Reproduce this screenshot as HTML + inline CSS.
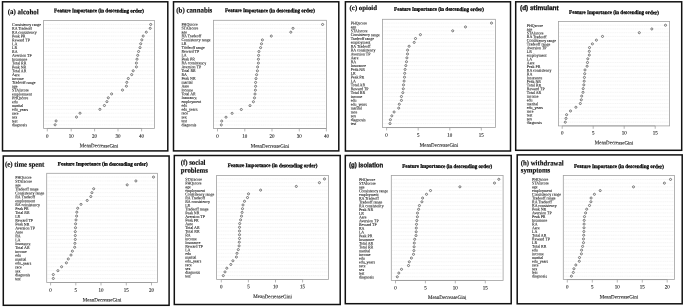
<!DOCTYPE html>
<html><head><meta charset="utf-8"><title>Feature importance</title>
<style>
html,body{margin:0;padding:0;background:#fff;}
body{width:685px;height:308px;overflow:hidden;}
svg{display:block;will-change:transform;}
svg text{font-family:"Liberation Serif", serif;text-rendering:geometricPrecision;}
svg circle{fill:none;stroke:#4a4a4a;stroke-width:0.7;}
.yl{font-size:4.3px;fill:#111;stroke:#111;stroke-width:0.07px;}
.tk{font-size:5.2px;fill:#222;stroke:#222;stroke-width:0.12px;text-anchor:middle;}
.xl{font-size:5.2px;fill:#222;stroke:#222;stroke-width:0.12px;}
.tt{font-size:5.3px;font-weight:bold;fill:#000;stroke:#000;stroke-width:0.26px;}
.pl{font-size:7.3px;font-weight:bold;fill:#111;stroke:#111;stroke-width:0.18px;}
.ps{font-family:"Liberation Sans", sans-serif !important;font-size:6.6px;font-weight:bold;fill:#111;stroke:#111;stroke-width:0.3px;}
</style></head>
<body>
<svg width="685" height="308" viewBox="0 0 685 308">
<rect width="685" height="308" fill="#fff"/>
<rect x="2.5" y="1.8" width="165.3" height="149.1" fill="none" stroke="#111111" stroke-width="1.5"/>
<path d="M44.4 24.46H153.6M44.4 28.32H153.6M44.4 32.18H153.6M44.4 36.04H153.6M44.4 39.89H153.6M44.4 43.75H153.6M44.4 47.61H153.6M44.4 51.47H153.6M44.4 55.33H153.6M44.4 59.19H153.6M44.4 63.05H153.6M44.4 66.91H153.6M44.4 70.77H153.6M44.4 74.62H153.6M44.4 78.48H153.6M44.4 82.34H153.6M44.4 86.2H153.6M44.4 90.06H153.6M44.4 93.92H153.6M44.4 97.78H153.6M44.4 101.64H153.6M44.4 105.5H153.6M44.4 109.36H153.6M44.4 113.21H153.6M44.4 117.07H153.6M44.4 120.93H153.6M44.4 124.79H153.6" stroke="#efefef" stroke-width="0.6" stroke-dasharray="1.3 0.5" fill="none"/>
<rect x="43.6" y="20.4" width="110.8" height="108.05" fill="none" stroke="#a0a0a0" stroke-width="0.8"/>
<path d="M47.3 128.45H141.6M47.3 128.45V131.35M71.2 128.45V131.35M94.6 128.45V131.35M118 128.45V131.35M141.6 128.45V131.35" stroke="#959595" stroke-width="0.7" fill="none"/>
<text transform="translate(47.3 137.7) rotate(0.2) scale(0.96 1)" class="tk">0</text>
<text transform="translate(71.2 137.7) rotate(0.2) scale(0.96 1)" class="tk">10</text>
<text transform="translate(94.6 137.7) rotate(0.2) scale(0.96 1)" class="tk">20</text>
<text transform="translate(118 137.7) rotate(0.2) scale(0.96 1)" class="tk">30</text>
<text transform="translate(141.6 137.7) rotate(0.2) scale(0.96 1)" class="tk">40</text>
<text transform="translate(79.75 147.3) rotate(0.2)" class="xl" textLength="38.5" lengthAdjust="spacingAndGlyphs">MeanDecreaseGini</text>
<text transform="translate(54.1 12.15) rotate(0.2)" class="tt" textLength="89.8" lengthAdjust="spacingAndGlyphs">Feature Importance (in descending order)</text>
<text transform="translate(7.8 14.1) rotate(0.2)" class="pl" textLength="30.8" lengthAdjust="spacingAndGlyphs">(a) alcohol</text>
<text transform="translate(12 25.96) rotate(0.2) scale(0.92 1)" class="yl">Consistency range</text>
<text transform="translate(12 29.82) rotate(0.2) scale(0.92 1)" class="yl">RA Tradeoff</text>
<text transform="translate(12 33.68) rotate(0.2) scale(0.92 1)" class="yl">RA consistency</text>
<text transform="translate(12 37.54) rotate(0.2) scale(0.92 1)" class="yl">Peak PR</text>
<text transform="translate(12 41.39) rotate(0.2) scale(0.92 1)" class="yl">Reward TP</text>
<text transform="translate(12 45.25) rotate(0.2) scale(0.92 1)" class="yl">LA</text>
<text transform="translate(12 49.11) rotate(0.2) scale(0.92 1)" class="yl">LR</text>
<text transform="translate(12 52.97) rotate(0.2) scale(0.92 1)" class="yl">RA</text>
<text transform="translate(12 56.83) rotate(0.2) scale(0.92 1)" class="yl">Aversion TP</text>
<text transform="translate(12 60.69) rotate(0.2) scale(0.92 1)" class="yl">Insurance</text>
<text transform="translate(12 64.55) rotate(0.2) scale(0.92 1)" class="yl">Total RR</text>
<text transform="translate(12 68.41) rotate(0.2) scale(0.92 1)" class="yl">Peak NR</text>
<text transform="translate(12 72.27) rotate(0.2) scale(0.92 1)" class="yl">Total AR</text>
<text transform="translate(12 76.12) rotate(0.2) scale(0.92 1)" class="yl">Aare</text>
<text transform="translate(12 79.98) rotate(0.2) scale(0.92 1)" class="yl">income</text>
<text transform="translate(12 83.84) rotate(0.2) scale(0.92 1)" class="yl">Tradeoff range</text>
<text transform="translate(12 87.7) rotate(0.2) scale(0.92 1)" class="yl">age</text>
<text transform="translate(12 91.56) rotate(0.2) scale(0.92 1)" class="yl">STAIscore</text>
<text transform="translate(12 95.42) rotate(0.2) scale(0.92 1)" class="yl">employment</text>
<text transform="translate(12 99.28) rotate(0.2) scale(0.92 1)" class="yl">PHQscore</text>
<text transform="translate(12 103.14) rotate(0.2) scale(0.92 1)" class="yl">edu</text>
<text transform="translate(12 107) rotate(0.2) scale(0.92 1)" class="yl">marital</text>
<text transform="translate(12 110.86) rotate(0.2) scale(0.92 1)" class="yl">edu_years</text>
<text transform="translate(12 114.71) rotate(0.2) scale(0.92 1)" class="yl">race</text>
<text transform="translate(12 118.57) rotate(0.2) scale(0.92 1)" class="yl">sex</text>
<text transform="translate(12 122.43) rotate(0.2) scale(0.92 1)" class="yl">test</text>
<text transform="translate(12 126.29) rotate(0.2) scale(0.92 1)" class="yl">diagnosis</text>
<circle cx="150.7" cy="24.46" r="1.05"/>
<circle cx="150.2" cy="28.32" r="1.05"/>
<circle cx="146.3" cy="32.18" r="1.05"/>
<circle cx="143.2" cy="36.04" r="1.05"/>
<circle cx="141.8" cy="39.89" r="1.05"/>
<circle cx="140.7" cy="43.75" r="1.05"/>
<circle cx="140" cy="47.61" r="1.05"/>
<circle cx="138.6" cy="51.47" r="1.05"/>
<circle cx="137.7" cy="55.33" r="1.05"/>
<circle cx="137" cy="59.19" r="1.05"/>
<circle cx="136.4" cy="63.05" r="1.05"/>
<circle cx="136.4" cy="66.91" r="1.05"/>
<circle cx="133.2" cy="70.77" r="1.05"/>
<circle cx="131.7" cy="74.62" r="1.05"/>
<circle cx="128.3" cy="78.48" r="1.05"/>
<circle cx="126.8" cy="82.34" r="1.05"/>
<circle cx="126.4" cy="86.2" r="1.05"/>
<circle cx="122.5" cy="90.06" r="1.05"/>
<circle cx="111.6" cy="93.92" r="1.05"/>
<circle cx="108.3" cy="97.78" r="1.05"/>
<circle cx="106.9" cy="101.64" r="1.05"/>
<circle cx="104.4" cy="105.5" r="1.05"/>
<circle cx="99.9" cy="109.36" r="1.05"/>
<circle cx="80" cy="113.21" r="1.05"/>
<circle cx="76.5" cy="117.07" r="1.05"/>
<circle cx="56.1" cy="120.93" r="1.05"/>
<circle cx="55.1" cy="124.79" r="1.05"/>
<rect x="173.5" y="1.8" width="165.3" height="149.1" fill="none" stroke="#111111" stroke-width="1.5"/>
<path d="M214.2 24.46H325.7M214.2 28.33H325.7M214.2 32.19H325.7M214.2 36.06H325.7M214.2 39.92H325.7M214.2 43.79H325.7M214.2 47.65H325.7M214.2 51.51H325.7M214.2 55.38H325.7M214.2 59.24H325.7M214.2 63.11H325.7M214.2 66.97H325.7M214.2 70.84H325.7M214.2 74.7H325.7M214.2 78.56H325.7M214.2 82.43H325.7M214.2 86.29H325.7M214.2 90.16H325.7M214.2 94.02H325.7M214.2 97.89H325.7M214.2 101.75H325.7M214.2 105.61H325.7M214.2 109.48H325.7M214.2 113.34H325.7M214.2 117.21H325.7M214.2 121.07H325.7M214.2 124.94H325.7" stroke="#efefef" stroke-width="0.6" stroke-dasharray="1.3 0.5" fill="none"/>
<rect x="213.4" y="20.3" width="113.1" height="108.2" fill="none" stroke="#a0a0a0" stroke-width="0.8"/>
<path d="M217.5 128.5H326.4M217.5 128.5V131.4M244.8 128.5V131.4M272 128.5V131.4M299.3 128.5V131.4M326.4 128.5V131.4" stroke="#959595" stroke-width="0.7" fill="none"/>
<text transform="translate(217.5 137.7) rotate(0.2) scale(0.96 1)" class="tk">0</text>
<text transform="translate(244.8 137.7) rotate(0.2) scale(0.96 1)" class="tk">10</text>
<text transform="translate(272 137.7) rotate(0.2) scale(0.96 1)" class="tk">20</text>
<text transform="translate(299.3 137.7) rotate(0.2) scale(0.96 1)" class="tk">30</text>
<text transform="translate(326.4 137.7) rotate(0.2) scale(0.96 1)" class="tk">40</text>
<text transform="translate(250.7 147.6) rotate(0.2)" class="xl" textLength="38.5" lengthAdjust="spacingAndGlyphs">MeanDecreaseGini</text>
<text transform="translate(225.05 12.05) rotate(0.2)" class="tt" textLength="89.8" lengthAdjust="spacingAndGlyphs">Feature Importance (in descending order)</text>
<text transform="translate(176.3 12.4) rotate(0.2)" class="pl" textLength="36.0" lengthAdjust="spacingAndGlyphs">(b) cannabis</text>
<text transform="translate(181.4 25.66) rotate(0.2) scale(0.92 1)" class="yl">PHQscore</text>
<text transform="translate(181.4 29.53) rotate(0.2) scale(0.92 1)" class="yl">STAIscore</text>
<text transform="translate(181.4 33.39) rotate(0.2) scale(0.92 1)" class="yl">age</text>
<text transform="translate(181.4 37.26) rotate(0.2) scale(0.92 1)" class="yl">RA Tradeoff</text>
<text transform="translate(181.4 41.12) rotate(0.2) scale(0.92 1)" class="yl">Consistency range</text>
<text transform="translate(181.4 44.99) rotate(0.2) scale(0.92 1)" class="yl">LR</text>
<text transform="translate(181.4 48.85) rotate(0.2) scale(0.92 1)" class="yl">Tradeoff range</text>
<text transform="translate(181.4 52.71) rotate(0.2) scale(0.92 1)" class="yl">Reward TP</text>
<text transform="translate(181.4 56.58) rotate(0.2) scale(0.92 1)" class="yl">LA</text>
<text transform="translate(181.4 60.44) rotate(0.2) scale(0.92 1)" class="yl">Peak PR</text>
<text transform="translate(181.4 64.31) rotate(0.2) scale(0.92 1)" class="yl">RA consistency</text>
<text transform="translate(181.4 68.17) rotate(0.2) scale(0.92 1)" class="yl">Aversion TP</text>
<text transform="translate(181.4 72.04) rotate(0.2) scale(0.92 1)" class="yl">Total RR</text>
<text transform="translate(181.4 75.9) rotate(0.2) scale(0.92 1)" class="yl">RA</text>
<text transform="translate(181.4 79.76) rotate(0.2) scale(0.92 1)" class="yl">Peak NR</text>
<text transform="translate(181.4 83.63) rotate(0.2) scale(0.92 1)" class="yl">marital</text>
<text transform="translate(181.4 87.49) rotate(0.2) scale(0.92 1)" class="yl">Aare</text>
<text transform="translate(181.4 91.36) rotate(0.2) scale(0.92 1)" class="yl">income</text>
<text transform="translate(181.4 95.22) rotate(0.2) scale(0.92 1)" class="yl">Total AR</text>
<text transform="translate(181.4 99.09) rotate(0.2) scale(0.92 1)" class="yl">Insurance</text>
<text transform="translate(181.4 102.95) rotate(0.2) scale(0.92 1)" class="yl">employment</text>
<text transform="translate(181.4 106.81) rotate(0.2) scale(0.92 1)" class="yl">edu</text>
<text transform="translate(181.4 110.68) rotate(0.2) scale(0.92 1)" class="yl">edu_years</text>
<text transform="translate(181.4 114.54) rotate(0.2) scale(0.92 1)" class="yl">race</text>
<text transform="translate(181.4 118.41) rotate(0.2) scale(0.92 1)" class="yl">sex</text>
<text transform="translate(181.4 122.27) rotate(0.2) scale(0.92 1)" class="yl">test</text>
<text transform="translate(181.4 126.14) rotate(0.2) scale(0.92 1)" class="yl">diagnosis</text>
<circle cx="322.6" cy="24.46" r="1.05"/>
<circle cx="293" cy="28.33" r="1.05"/>
<circle cx="290.8" cy="32.19" r="1.05"/>
<circle cx="271.3" cy="36.06" r="1.05"/>
<circle cx="262.4" cy="39.92" r="1.05"/>
<circle cx="261.5" cy="43.79" r="1.05"/>
<circle cx="260.6" cy="47.65" r="1.05"/>
<circle cx="258.9" cy="51.51" r="1.05"/>
<circle cx="258.6" cy="55.38" r="1.05"/>
<circle cx="258.4" cy="59.24" r="1.05"/>
<circle cx="258.4" cy="63.11" r="1.05"/>
<circle cx="257.6" cy="66.97" r="1.05"/>
<circle cx="257.4" cy="70.84" r="1.05"/>
<circle cx="256.6" cy="74.7" r="1.05"/>
<circle cx="256" cy="78.56" r="1.05"/>
<circle cx="255.6" cy="82.43" r="1.05"/>
<circle cx="255.6" cy="86.29" r="1.05"/>
<circle cx="255.4" cy="90.16" r="1.05"/>
<circle cx="255" cy="94.02" r="1.05"/>
<circle cx="254.5" cy="97.89" r="1.05"/>
<circle cx="253.4" cy="101.75" r="1.05"/>
<circle cx="250" cy="105.61" r="1.05"/>
<circle cx="241.3" cy="109.48" r="1.05"/>
<circle cx="232.1" cy="113.34" r="1.05"/>
<circle cx="226" cy="117.21" r="1.05"/>
<circle cx="221.7" cy="121.07" r="1.05"/>
<circle cx="221.3" cy="124.94" r="1.05"/>
<rect x="345.4" y="1.8" width="165.1" height="149.2" fill="none" stroke="#111111" stroke-width="1.5"/>
<path d="M383.3 23.07H494.7M383.3 26.93H494.7M383.3 30.8H494.7M383.3 34.66H494.7M383.3 38.53H494.7M383.3 42.4H494.7M383.3 46.26H494.7M383.3 50.13H494.7M383.3 53.99H494.7M383.3 57.86H494.7M383.3 61.73H494.7M383.3 65.59H494.7M383.3 69.46H494.7M383.3 73.33H494.7M383.3 77.19H494.7M383.3 81.06H494.7M383.3 84.92H494.7M383.3 88.79H494.7M383.3 92.66H494.7M383.3 96.52H494.7M383.3 100.39H494.7M383.3 104.25H494.7M383.3 108.12H494.7M383.3 111.99H494.7M383.3 115.85H494.7M383.3 119.72H494.7M383.3 123.58H494.7" stroke="#efefef" stroke-width="0.6" stroke-dasharray="1.3 0.5" fill="none"/>
<rect x="382.5" y="19.3" width="113" height="108.25" fill="none" stroke="#a0a0a0" stroke-width="0.8"/>
<path d="M386.6 127.55H481.3M386.6 127.55V130.45M418.2 127.55V130.45M449.8 127.55V130.45M481.3 127.55V130.45" stroke="#959595" stroke-width="0.7" fill="none"/>
<text transform="translate(386.6 136.7) rotate(0.2) scale(0.96 1)" class="tk">0</text>
<text transform="translate(418.2 136.7) rotate(0.2) scale(0.96 1)" class="tk">5</text>
<text transform="translate(449.8 136.7) rotate(0.2) scale(0.96 1)" class="tk">10</text>
<text transform="translate(481.3 136.7) rotate(0.2) scale(0.96 1)" class="tk">15</text>
<text transform="translate(419.75 146.7) rotate(0.2)" class="xl" textLength="38.5" lengthAdjust="spacingAndGlyphs">MeanDecreaseGini</text>
<text transform="translate(394.1 10.65) rotate(0.2)" class="tt" textLength="89.8" lengthAdjust="spacingAndGlyphs">Feature Importance (in descending order)</text>
<text transform="translate(349.6 9.9) rotate(0.2)" class="pl" style="font-size:6.7px" textLength="27.4" lengthAdjust="spacingAndGlyphs">(c) opioid</text>
<text transform="translate(350.7 24.47) rotate(0.2) scale(0.92 1)" class="yl">PHQscore</text>
<text transform="translate(350.7 28.33) rotate(0.2) scale(0.92 1)" class="yl">age</text>
<text transform="translate(350.7 32.2) rotate(0.2) scale(0.92 1)" class="yl">STAIscore</text>
<text transform="translate(350.7 36.06) rotate(0.2) scale(0.92 1)" class="yl">Consistency range</text>
<text transform="translate(350.7 39.93) rotate(0.2) scale(0.92 1)" class="yl">Tradeoff range</text>
<text transform="translate(350.7 43.8) rotate(0.2) scale(0.92 1)" class="yl">employment</text>
<text transform="translate(350.7 47.66) rotate(0.2) scale(0.92 1)" class="yl">RA Tradeoff</text>
<text transform="translate(350.7 51.53) rotate(0.2) scale(0.92 1)" class="yl">RA consistency</text>
<text transform="translate(350.7 55.39) rotate(0.2) scale(0.92 1)" class="yl">Aversion TP</text>
<text transform="translate(350.7 59.26) rotate(0.2) scale(0.92 1)" class="yl">Aare</text>
<text transform="translate(350.7 63.13) rotate(0.2) scale(0.92 1)" class="yl">RA</text>
<text transform="translate(350.7 66.99) rotate(0.2) scale(0.92 1)" class="yl">Insurance</text>
<text transform="translate(350.7 70.86) rotate(0.2) scale(0.92 1)" class="yl">Peak NR</text>
<text transform="translate(350.7 74.72) rotate(0.2) scale(0.92 1)" class="yl">LR</text>
<text transform="translate(350.7 78.59) rotate(0.2) scale(0.92 1)" class="yl">Peak PR</text>
<text transform="translate(350.7 82.46) rotate(0.2) scale(0.92 1)" class="yl">LA</text>
<text transform="translate(350.7 86.32) rotate(0.2) scale(0.92 1)" class="yl">Total AR</text>
<text transform="translate(350.7 90.19) rotate(0.2) scale(0.92 1)" class="yl">Reward TP</text>
<text transform="translate(350.7 94.06) rotate(0.2) scale(0.92 1)" class="yl">Total RR</text>
<text transform="translate(350.7 97.92) rotate(0.2) scale(0.92 1)" class="yl">income</text>
<text transform="translate(350.7 101.79) rotate(0.2) scale(0.92 1)" class="yl">edu</text>
<text transform="translate(350.7 105.65) rotate(0.2) scale(0.92 1)" class="yl">edu_years</text>
<text transform="translate(350.7 109.52) rotate(0.2) scale(0.92 1)" class="yl">marital</text>
<text transform="translate(350.7 113.39) rotate(0.2) scale(0.92 1)" class="yl">race</text>
<text transform="translate(350.7 117.25) rotate(0.2) scale(0.92 1)" class="yl">sex</text>
<text transform="translate(350.7 121.12) rotate(0.2) scale(0.92 1)" class="yl">diagnosis</text>
<text transform="translate(350.7 124.98) rotate(0.2) scale(0.92 1)" class="yl">test</text>
<circle cx="491.5" cy="23.07" r="1.05"/>
<circle cx="465.5" cy="26.93" r="1.05"/>
<circle cx="452.7" cy="30.8" r="1.05"/>
<circle cx="420.4" cy="34.66" r="1.05"/>
<circle cx="415.5" cy="38.53" r="1.05"/>
<circle cx="414.2" cy="42.4" r="1.05"/>
<circle cx="409.1" cy="46.26" r="1.05"/>
<circle cx="407.6" cy="50.13" r="1.05"/>
<circle cx="407.5" cy="53.99" r="1.05"/>
<circle cx="406.9" cy="57.86" r="1.05"/>
<circle cx="406.5" cy="61.73" r="1.05"/>
<circle cx="405.8" cy="65.59" r="1.05"/>
<circle cx="405.1" cy="69.46" r="1.05"/>
<circle cx="404.7" cy="73.33" r="1.05"/>
<circle cx="404.5" cy="77.19" r="1.05"/>
<circle cx="404.1" cy="81.06" r="1.05"/>
<circle cx="403.5" cy="84.92" r="1.05"/>
<circle cx="403.3" cy="88.79" r="1.05"/>
<circle cx="402.8" cy="92.66" r="1.05"/>
<circle cx="401.4" cy="96.52" r="1.05"/>
<circle cx="401.4" cy="100.39" r="1.05"/>
<circle cx="399.3" cy="104.25" r="1.05"/>
<circle cx="398.7" cy="108.12" r="1.05"/>
<circle cx="394.1" cy="111.99" r="1.05"/>
<circle cx="391.8" cy="115.85" r="1.05"/>
<circle cx="390.4" cy="119.72" r="1.05"/>
<circle cx="390" cy="123.58" r="1.05"/>
<rect x="515.7" y="1.8" width="166" height="148.5" fill="none" stroke="#111111" stroke-width="1.5"/>
<path d="M559.2 25.23H668.8M559.2 28.96H668.8M559.2 32.69H668.8M559.2 36.41H668.8M559.2 40.14H668.8M559.2 43.87H668.8M559.2 47.6H668.8M559.2 51.33H668.8M559.2 55.06H668.8M559.2 58.79H668.8M559.2 62.51H668.8M559.2 66.24H668.8M559.2 69.97H668.8M559.2 73.7H668.8M559.2 77.43H668.8M559.2 81.16H668.8M559.2 84.89H668.8M559.2 88.61H668.8M559.2 92.34H668.8M559.2 96.07H668.8M559.2 99.8H668.8M559.2 103.53H668.8M559.2 107.26H668.8M559.2 110.99H668.8M559.2 114.71H668.8M559.2 118.44H668.8M559.2 122.17H668.8" stroke="#efefef" stroke-width="0.6" stroke-dasharray="1.3 0.5" fill="none"/>
<rect x="558.4" y="21.5" width="111.2" height="104.4" fill="none" stroke="#a0a0a0" stroke-width="0.8"/>
<path d="M562.2 125.9H655.2M562.2 125.9V128.8M593.2 125.9V128.8M624.2 125.9V128.8M655.2 125.9V128.8" stroke="#959595" stroke-width="0.7" fill="none"/>
<text transform="translate(562.2 134.4) rotate(0.2) scale(0.96 1)" class="tk">0</text>
<text transform="translate(593.2 134.4) rotate(0.2) scale(0.96 1)" class="tk">5</text>
<text transform="translate(624.2 134.4) rotate(0.2) scale(0.96 1)" class="tk">10</text>
<text transform="translate(655.2 134.4) rotate(0.2) scale(0.96 1)" class="tk">15</text>
<text transform="translate(594.75 144.3) rotate(0.2)" class="xl" textLength="38.5" lengthAdjust="spacingAndGlyphs">MeanDecreaseGini</text>
<text transform="translate(569.1 13.85) rotate(0.2)" class="tt" textLength="89.8" lengthAdjust="spacingAndGlyphs">Feature Importance (in descending order)</text>
<text transform="translate(520 10) rotate(0.2)" class="ps" textLength="38.6" lengthAdjust="spacingAndGlyphs">(d) stimulant</text>
<text transform="translate(526.8 26.93) rotate(0.2) scale(0.92 1)" class="yl">PHQscore</text>
<text transform="translate(526.8 30.66) rotate(0.2) scale(0.92 1)" class="yl">age</text>
<text transform="translate(526.8 34.39) rotate(0.2) scale(0.92 1)" class="yl">STAIscore</text>
<text transform="translate(526.8 38.11) rotate(0.2) scale(0.92 1)" class="yl">RA Tradeoff</text>
<text transform="translate(526.8 41.84) rotate(0.2) scale(0.92 1)" class="yl">Consistency range</text>
<text transform="translate(526.8 45.57) rotate(0.2) scale(0.92 1)" class="yl">Tradeoff range</text>
<text transform="translate(526.8 49.3) rotate(0.2) scale(0.92 1)" class="yl">Aversion TP</text>
<text transform="translate(526.8 53.03) rotate(0.2) scale(0.92 1)" class="yl">LR</text>
<text transform="translate(526.8 56.76) rotate(0.2) scale(0.92 1)" class="yl">employment</text>
<text transform="translate(526.8 60.49) rotate(0.2) scale(0.92 1)" class="yl">LA</text>
<text transform="translate(526.8 64.21) rotate(0.2) scale(0.92 1)" class="yl">Aare</text>
<text transform="translate(526.8 67.94) rotate(0.2) scale(0.92 1)" class="yl">Peak PR</text>
<text transform="translate(526.8 71.67) rotate(0.2) scale(0.92 1)" class="yl">RA consistency</text>
<text transform="translate(526.8 75.4) rotate(0.2) scale(0.92 1)" class="yl">RA</text>
<text transform="translate(526.8 79.13) rotate(0.2) scale(0.92 1)" class="yl">Insurance</text>
<text transform="translate(526.8 82.86) rotate(0.2) scale(0.92 1)" class="yl">Peak NR</text>
<text transform="translate(526.8 86.59) rotate(0.2) scale(0.92 1)" class="yl">Total RR</text>
<text transform="translate(526.8 90.31) rotate(0.2) scale(0.92 1)" class="yl">Reward TP</text>
<text transform="translate(526.8 94.04) rotate(0.2) scale(0.92 1)" class="yl">Total AR</text>
<text transform="translate(526.8 97.77) rotate(0.2) scale(0.92 1)" class="yl">income</text>
<text transform="translate(526.8 101.5) rotate(0.2) scale(0.92 1)" class="yl">edu</text>
<text transform="translate(526.8 105.23) rotate(0.2) scale(0.92 1)" class="yl">marital</text>
<text transform="translate(526.8 108.96) rotate(0.2) scale(0.92 1)" class="yl">edu_years</text>
<text transform="translate(526.8 112.69) rotate(0.2) scale(0.92 1)" class="yl">race</text>
<text transform="translate(526.8 116.41) rotate(0.2) scale(0.92 1)" class="yl">test</text>
<text transform="translate(526.8 120.14) rotate(0.2) scale(0.92 1)" class="yl">sex</text>
<text transform="translate(526.8 123.87) rotate(0.2) scale(0.92 1)" class="yl">diagnosis</text>
<circle cx="665.5" cy="25.23" r="1.05"/>
<circle cx="651.8" cy="28.96" r="1.05"/>
<circle cx="639.3" cy="32.69" r="1.05"/>
<circle cx="602.5" cy="36.41" r="1.05"/>
<circle cx="596.4" cy="40.14" r="1.05"/>
<circle cx="592.4" cy="43.87" r="1.05"/>
<circle cx="589.5" cy="47.6" r="1.05"/>
<circle cx="589.3" cy="51.33" r="1.05"/>
<circle cx="589.3" cy="55.06" r="1.05"/>
<circle cx="587.8" cy="58.79" r="1.05"/>
<circle cx="587.5" cy="62.51" r="1.05"/>
<circle cx="587.1" cy="66.24" r="1.05"/>
<circle cx="585" cy="69.97" r="1.05"/>
<circle cx="584.7" cy="73.7" r="1.05"/>
<circle cx="584.4" cy="77.43" r="1.05"/>
<circle cx="584.2" cy="81.16" r="1.05"/>
<circle cx="583.8" cy="84.89" r="1.05"/>
<circle cx="583.2" cy="88.61" r="1.05"/>
<circle cx="583" cy="92.34" r="1.05"/>
<circle cx="581.7" cy="96.07" r="1.05"/>
<circle cx="581.3" cy="99.8" r="1.05"/>
<circle cx="580.3" cy="103.53" r="1.05"/>
<circle cx="575.9" cy="107.26" r="1.05"/>
<circle cx="570.5" cy="110.99" r="1.05"/>
<circle cx="566.6" cy="114.71" r="1.05"/>
<circle cx="566" cy="118.44" r="1.05"/>
<circle cx="565.3" cy="122.17" r="1.05"/>
<rect x="3.3" y="156" width="165.8" height="149.3" fill="none" stroke="#111111" stroke-width="1.5"/>
<path d="M47.5 177.05H156.6M47.5 180.95H156.6M47.5 184.85H156.6M47.5 188.75H156.6M47.5 192.65H156.6M47.5 196.55H156.6M47.5 200.45H156.6M47.5 204.35H156.6M47.5 208.25H156.6M47.5 212.15H156.6M47.5 216.05H156.6M47.5 219.95H156.6M47.5 223.85H156.6M47.5 227.75H156.6M47.5 231.65H156.6M47.5 235.55H156.6M47.5 239.45H156.6M47.5 243.35H156.6M47.5 247.25H156.6M47.5 251.15H156.6M47.5 255.05H156.6M47.5 258.95H156.6M47.5 262.85H156.6M47.5 266.75H156.6M47.5 270.65H156.6M47.5 274.55H156.6M47.5 278.45H156.6" stroke="#efefef" stroke-width="0.6" stroke-dasharray="1.3 0.5" fill="none"/>
<rect x="46.7" y="173.3" width="110.7" height="109.2" fill="none" stroke="#a0a0a0" stroke-width="0.8"/>
<path d="M50.6 282.5H151.5M50.6 282.5V285.4M75.8 282.5V285.4M101 282.5V285.4M126.3 282.5V285.4M151.5 282.5V285.4" stroke="#959595" stroke-width="0.7" fill="none"/>
<text transform="translate(50.6 291.7) rotate(0.2) scale(0.96 1)" class="tk">0</text>
<text transform="translate(75.8 291.7) rotate(0.2) scale(0.96 1)" class="tk">5</text>
<text transform="translate(101 291.7) rotate(0.2) scale(0.96 1)" class="tk">10</text>
<text transform="translate(126.3 291.7) rotate(0.2) scale(0.96 1)" class="tk">15</text>
<text transform="translate(151.5 291.7) rotate(0.2) scale(0.96 1)" class="tk">20</text>
<text transform="translate(82.8 301.4) rotate(0.2)" class="xl" textLength="38.5" lengthAdjust="spacingAndGlyphs">MeanDecreaseGini</text>
<text transform="translate(57.85 165.45) rotate(0.2)" class="tt" textLength="89.8" lengthAdjust="spacingAndGlyphs">Feature Importance (in descending order)</text>
<text transform="translate(5 166.6) rotate(0.2)" class="pl" textLength="39.4" lengthAdjust="spacingAndGlyphs">(e) time spent</text>
<text transform="translate(15.2 178.8) rotate(0.2) scale(0.92 1)" class="yl">PHQscore</text>
<text transform="translate(15.2 182.7) rotate(0.2) scale(0.92 1)" class="yl">STAIscore</text>
<text transform="translate(15.2 186.6) rotate(0.2) scale(0.92 1)" class="yl">age</text>
<text transform="translate(15.2 190.5) rotate(0.2) scale(0.92 1)" class="yl">Tradeoff range</text>
<text transform="translate(15.2 194.4) rotate(0.2) scale(0.92 1)" class="yl">Consistency range</text>
<text transform="translate(15.2 198.3) rotate(0.2) scale(0.92 1)" class="yl">RA Tradeoff</text>
<text transform="translate(15.2 202.2) rotate(0.2) scale(0.92 1)" class="yl">employment</text>
<text transform="translate(15.2 206.1) rotate(0.2) scale(0.92 1)" class="yl">RA consistency</text>
<text transform="translate(15.2 210) rotate(0.2) scale(0.92 1)" class="yl">Peak PR</text>
<text transform="translate(15.2 213.9) rotate(0.2) scale(0.92 1)" class="yl">Total RR</text>
<text transform="translate(15.2 217.8) rotate(0.2) scale(0.92 1)" class="yl">LR</text>
<text transform="translate(15.2 221.7) rotate(0.2) scale(0.92 1)" class="yl">Reward TP</text>
<text transform="translate(15.2 225.6) rotate(0.2) scale(0.92 1)" class="yl">Peak NR</text>
<text transform="translate(15.2 229.5) rotate(0.2) scale(0.92 1)" class="yl">Aversion TP</text>
<text transform="translate(15.2 233.4) rotate(0.2) scale(0.92 1)" class="yl">Aare</text>
<text transform="translate(15.2 237.3) rotate(0.2) scale(0.92 1)" class="yl">RA</text>
<text transform="translate(15.2 241.2) rotate(0.2) scale(0.92 1)" class="yl">LA</text>
<text transform="translate(15.2 245.1) rotate(0.2) scale(0.92 1)" class="yl">Insurance</text>
<text transform="translate(15.2 249) rotate(0.2) scale(0.92 1)" class="yl">Total AR</text>
<text transform="translate(15.2 252.9) rotate(0.2) scale(0.92 1)" class="yl">income</text>
<text transform="translate(15.2 256.8) rotate(0.2) scale(0.92 1)" class="yl">edu</text>
<text transform="translate(15.2 260.7) rotate(0.2) scale(0.92 1)" class="yl">marital</text>
<text transform="translate(15.2 264.6) rotate(0.2) scale(0.92 1)" class="yl">edu_years</text>
<text transform="translate(15.2 268.5) rotate(0.2) scale(0.92 1)" class="yl">race</text>
<text transform="translate(15.2 272.4) rotate(0.2) scale(0.92 1)" class="yl">sex</text>
<text transform="translate(15.2 276.3) rotate(0.2) scale(0.92 1)" class="yl">diagnosis</text>
<text transform="translate(15.2 280.2) rotate(0.2) scale(0.92 1)" class="yl">test</text>
<circle cx="153.5" cy="177.05" r="1.05"/>
<circle cx="135.9" cy="180.95" r="1.05"/>
<circle cx="127.2" cy="184.85" r="1.05"/>
<circle cx="93.7" cy="188.75" r="1.05"/>
<circle cx="91.9" cy="192.65" r="1.05"/>
<circle cx="90.8" cy="196.55" r="1.05"/>
<circle cx="87.2" cy="200.45" r="1.05"/>
<circle cx="81" cy="204.35" r="1.05"/>
<circle cx="77.7" cy="208.25" r="1.05"/>
<circle cx="76.8" cy="212.15" r="1.05"/>
<circle cx="76.6" cy="216.05" r="1.05"/>
<circle cx="76" cy="219.95" r="1.05"/>
<circle cx="75.6" cy="223.85" r="1.05"/>
<circle cx="75.5" cy="227.75" r="1.05"/>
<circle cx="75.3" cy="231.65" r="1.05"/>
<circle cx="75.3" cy="235.55" r="1.05"/>
<circle cx="75.3" cy="239.45" r="1.05"/>
<circle cx="74.9" cy="243.35" r="1.05"/>
<circle cx="74.7" cy="247.25" r="1.05"/>
<circle cx="72.4" cy="251.15" r="1.05"/>
<circle cx="71" cy="255.05" r="1.05"/>
<circle cx="68.3" cy="258.95" r="1.05"/>
<circle cx="66.4" cy="262.85" r="1.05"/>
<circle cx="61.6" cy="266.75" r="1.05"/>
<circle cx="57.9" cy="270.65" r="1.05"/>
<circle cx="53.3" cy="274.55" r="1.05"/>
<circle cx="53.3" cy="278.45" r="1.05"/>
<rect x="174.3" y="155.5" width="165.9" height="149" fill="none" stroke="#111111" stroke-width="1.5"/>
<path d="M217.4 178.97H327.7M217.4 182.69H327.7M217.4 186.4H327.7M217.4 190.12H327.7M217.4 193.84H327.7M217.4 197.56H327.7M217.4 201.28H327.7M217.4 204.99H327.7M217.4 208.71H327.7M217.4 212.43H327.7M217.4 216.15H327.7M217.4 219.86H327.7M217.4 223.58H327.7M217.4 227.3H327.7M217.4 231.02H327.7M217.4 234.74H327.7M217.4 238.45H327.7M217.4 242.17H327.7M217.4 245.89H327.7M217.4 249.61H327.7M217.4 253.32H327.7M217.4 257.04H327.7M217.4 260.76H327.7M217.4 264.48H327.7M217.4 268.2H327.7M217.4 271.91H327.7M217.4 275.63H327.7" stroke="#efefef" stroke-width="0.6" stroke-dasharray="1.3 0.5" fill="none"/>
<rect x="216.6" y="175.4" width="111.9" height="104.1" fill="none" stroke="#a0a0a0" stroke-width="0.8"/>
<path d="M221.3 279.5H302.6M221.3 279.5V282.4M248.4 279.5V282.4M275.5 279.5V282.4M302.6 279.5V282.4" stroke="#959595" stroke-width="0.7" fill="none"/>
<text transform="translate(221.3 288.2) rotate(0.2) scale(0.96 1)" class="tk">0</text>
<text transform="translate(248.4 288.2) rotate(0.2) scale(0.96 1)" class="tk">5</text>
<text transform="translate(275.5 288.2) rotate(0.2) scale(0.96 1)" class="tk">10</text>
<text transform="translate(302.6 288.2) rotate(0.2) scale(0.96 1)" class="tk">15</text>
<text transform="translate(253.3 298.1) rotate(0.2)" class="xl" textLength="38.5" lengthAdjust="spacingAndGlyphs">MeanDecreaseGini</text>
<text transform="translate(227.65 166.95) rotate(0.2)" class="tt" textLength="89.8" lengthAdjust="spacingAndGlyphs">Feature Importance (in descending order)</text>
<text transform="translate(180.7 164.8) rotate(0.2)" class="pl" textLength="24.8" lengthAdjust="spacingAndGlyphs">(f) social</text>
<text transform="translate(180.7 172.6) rotate(0.2)" class="pl" textLength="27.1" lengthAdjust="spacingAndGlyphs">problems</text>
<text transform="translate(185.2 180.72) rotate(0.2) scale(0.92 1)" class="yl">STAIscore</text>
<text transform="translate(185.2 184.44) rotate(0.2) scale(0.92 1)" class="yl">PHQscore</text>
<text transform="translate(185.2 188.15) rotate(0.2) scale(0.92 1)" class="yl">age</text>
<text transform="translate(185.2 191.87) rotate(0.2) scale(0.92 1)" class="yl">employment</text>
<text transform="translate(185.2 195.59) rotate(0.2) scale(0.92 1)" class="yl">Consistency range</text>
<text transform="translate(185.2 199.31) rotate(0.2) scale(0.92 1)" class="yl">RA Tradeoff</text>
<text transform="translate(185.2 203.03) rotate(0.2) scale(0.92 1)" class="yl">RA consistency</text>
<text transform="translate(185.2 206.74) rotate(0.2) scale(0.92 1)" class="yl">LR</text>
<text transform="translate(185.2 210.46) rotate(0.2) scale(0.92 1)" class="yl">Tradeoff range</text>
<text transform="translate(185.2 214.18) rotate(0.2) scale(0.92 1)" class="yl">Peak NR</text>
<text transform="translate(185.2 217.9) rotate(0.2) scale(0.92 1)" class="yl">Aversion TP</text>
<text transform="translate(185.2 221.61) rotate(0.2) scale(0.92 1)" class="yl">Peak PR</text>
<text transform="translate(185.2 225.33) rotate(0.2) scale(0.92 1)" class="yl">Aare</text>
<text transform="translate(185.2 229.05) rotate(0.2) scale(0.92 1)" class="yl">Total AR</text>
<text transform="translate(185.2 232.77) rotate(0.2) scale(0.92 1)" class="yl">Total RR</text>
<text transform="translate(185.2 236.49) rotate(0.2) scale(0.92 1)" class="yl">RA</text>
<text transform="translate(185.2 240.2) rotate(0.2) scale(0.92 1)" class="yl">income</text>
<text transform="translate(185.2 243.92) rotate(0.2) scale(0.92 1)" class="yl">Insurance</text>
<text transform="translate(185.2 247.64) rotate(0.2) scale(0.92 1)" class="yl">Reward TP</text>
<text transform="translate(185.2 251.36) rotate(0.2) scale(0.92 1)" class="yl">LA</text>
<text transform="translate(185.2 255.07) rotate(0.2) scale(0.92 1)" class="yl">edu</text>
<text transform="translate(185.2 258.79) rotate(0.2) scale(0.92 1)" class="yl">marital</text>
<text transform="translate(185.2 262.51) rotate(0.2) scale(0.92 1)" class="yl">edu_years</text>
<text transform="translate(185.2 266.23) rotate(0.2) scale(0.92 1)" class="yl">race</text>
<text transform="translate(185.2 269.95) rotate(0.2) scale(0.92 1)" class="yl">sex</text>
<text transform="translate(185.2 273.66) rotate(0.2) scale(0.92 1)" class="yl">diagnosis</text>
<text transform="translate(185.2 277.38) rotate(0.2) scale(0.92 1)" class="yl">test</text>
<circle cx="324.5" cy="178.97" r="1.05"/>
<circle cx="319.4" cy="182.69" r="1.05"/>
<circle cx="296.3" cy="186.4" r="1.05"/>
<circle cx="260.6" cy="190.12" r="1.05"/>
<circle cx="248.5" cy="193.84" r="1.05"/>
<circle cx="247.5" cy="197.56" r="1.05"/>
<circle cx="244.5" cy="201.28" r="1.05"/>
<circle cx="243" cy="204.99" r="1.05"/>
<circle cx="242.5" cy="208.71" r="1.05"/>
<circle cx="242.1" cy="212.43" r="1.05"/>
<circle cx="241.5" cy="216.15" r="1.05"/>
<circle cx="240.6" cy="219.86" r="1.05"/>
<circle cx="239.7" cy="223.58" r="1.05"/>
<circle cx="239.5" cy="227.3" r="1.05"/>
<circle cx="239.5" cy="231.02" r="1.05"/>
<circle cx="239.5" cy="234.74" r="1.05"/>
<circle cx="239.5" cy="238.45" r="1.05"/>
<circle cx="239.3" cy="242.17" r="1.05"/>
<circle cx="239.1" cy="245.89" r="1.05"/>
<circle cx="238.3" cy="249.61" r="1.05"/>
<circle cx="237" cy="253.32" r="1.05"/>
<circle cx="236.4" cy="257.04" r="1.05"/>
<circle cx="232.9" cy="260.76" r="1.05"/>
<circle cx="230.8" cy="264.48" r="1.05"/>
<circle cx="226.8" cy="268.2" r="1.05"/>
<circle cx="225" cy="271.91" r="1.05"/>
<circle cx="223.3" cy="275.63" r="1.05"/>
<rect x="345.3" y="155.5" width="165.9" height="148.2" fill="none" stroke="#111111" stroke-width="1.5"/>
<path d="M392.1 179.3H502.3M392.1 183.05H502.3M392.1 186.8H502.3M392.1 190.55H502.3M392.1 194.3H502.3M392.1 198.05H502.3M392.1 201.8H502.3M392.1 205.55H502.3M392.1 209.3H502.3M392.1 213.05H502.3M392.1 216.8H502.3M392.1 220.55H502.3M392.1 224.3H502.3M392.1 228.05H502.3M392.1 231.8H502.3M392.1 235.55H502.3M392.1 239.3H502.3M392.1 243.05H502.3M392.1 246.8H502.3M392.1 250.55H502.3M392.1 254.3H502.3M392.1 258.05H502.3M392.1 261.8H502.3M392.1 265.55H502.3M392.1 269.3H502.3M392.1 273.05H502.3M392.1 276.8H502.3" stroke="#efefef" stroke-width="0.6" stroke-dasharray="1.3 0.5" fill="none"/>
<rect x="391.3" y="175.45" width="111.8" height="105" fill="none" stroke="#a0a0a0" stroke-width="0.8"/>
<path d="M395.5 280.45H485.3M395.5 280.45V283.35M425.4 280.45V283.35M455.3 280.45V283.35M485.3 280.45V283.35" stroke="#959595" stroke-width="0.7" fill="none"/>
<text transform="translate(395.5 289.5) rotate(0.2) scale(0.96 1)" class="tk">0</text>
<text transform="translate(425.4 289.5) rotate(0.2) scale(0.96 1)" class="tk">5</text>
<text transform="translate(455.3 289.5) rotate(0.2) scale(0.96 1)" class="tk">10</text>
<text transform="translate(485.3 289.5) rotate(0.2) scale(0.96 1)" class="tk">15</text>
<text transform="translate(427.95 299) rotate(0.2)" class="xl" textLength="38.5" lengthAdjust="spacingAndGlyphs">MeanDecreaseGini</text>
<text transform="translate(402.3 167.75) rotate(0.2)" class="tt" textLength="89.8" lengthAdjust="spacingAndGlyphs">Feature Importance (in descending order)</text>
<text transform="translate(349 167.1) rotate(0.2)" class="ps" textLength="34.2" lengthAdjust="spacingAndGlyphs">(g) isolation</text>
<text transform="translate(358.9 180.9) rotate(0.2) scale(0.92 1)" class="yl">PHQscore</text>
<text transform="translate(358.9 184.65) rotate(0.2) scale(0.92 1)" class="yl">STAIscore</text>
<text transform="translate(358.9 188.4) rotate(0.2) scale(0.92 1)" class="yl">age</text>
<text transform="translate(358.9 192.15) rotate(0.2) scale(0.92 1)" class="yl">Consistency range</text>
<text transform="translate(358.9 195.9) rotate(0.2) scale(0.92 1)" class="yl">employment</text>
<text transform="translate(358.9 199.65) rotate(0.2) scale(0.92 1)" class="yl">RA Tradeoff</text>
<text transform="translate(358.9 203.4) rotate(0.2) scale(0.92 1)" class="yl">Tradeoff range</text>
<text transform="translate(358.9 207.15) rotate(0.2) scale(0.92 1)" class="yl">RA consistency</text>
<text transform="translate(358.9 210.9) rotate(0.2) scale(0.92 1)" class="yl">Peak NR</text>
<text transform="translate(358.9 214.65) rotate(0.2) scale(0.92 1)" class="yl">LR</text>
<text transform="translate(358.9 218.4) rotate(0.2) scale(0.92 1)" class="yl">Aare</text>
<text transform="translate(358.9 222.15) rotate(0.2) scale(0.92 1)" class="yl">Aversion TP</text>
<text transform="translate(358.9 225.9) rotate(0.2) scale(0.92 1)" class="yl">Reward TP</text>
<text transform="translate(358.9 229.65) rotate(0.2) scale(0.92 1)" class="yl">RA</text>
<text transform="translate(358.9 233.4) rotate(0.2) scale(0.92 1)" class="yl">LA</text>
<text transform="translate(358.9 237.15) rotate(0.2) scale(0.92 1)" class="yl">Peak PR</text>
<text transform="translate(358.9 240.9) rotate(0.2) scale(0.92 1)" class="yl">Insurance</text>
<text transform="translate(358.9 244.65) rotate(0.2) scale(0.92 1)" class="yl">Total AR</text>
<text transform="translate(358.9 248.4) rotate(0.2) scale(0.92 1)" class="yl">Total RR</text>
<text transform="translate(358.9 252.15) rotate(0.2) scale(0.92 1)" class="yl">marital</text>
<text transform="translate(358.9 255.9) rotate(0.2) scale(0.92 1)" class="yl">income</text>
<text transform="translate(358.9 259.65) rotate(0.2) scale(0.92 1)" class="yl">edu</text>
<text transform="translate(358.9 263.4) rotate(0.2) scale(0.92 1)" class="yl">edu_years</text>
<text transform="translate(358.9 267.15) rotate(0.2) scale(0.92 1)" class="yl">race</text>
<text transform="translate(358.9 270.9) rotate(0.2) scale(0.92 1)" class="yl">sex</text>
<text transform="translate(358.9 274.65) rotate(0.2) scale(0.92 1)" class="yl">test</text>
<text transform="translate(358.9 278.4) rotate(0.2) scale(0.92 1)" class="yl">diagnosis</text>
<circle cx="498.8" cy="179.3" r="1.05"/>
<circle cx="494.5" cy="183.05" r="1.05"/>
<circle cx="459.9" cy="186.8" r="1.05"/>
<circle cx="430.5" cy="190.55" r="1.05"/>
<circle cx="426.5" cy="194.3" r="1.05"/>
<circle cx="422.6" cy="198.05" r="1.05"/>
<circle cx="421.9" cy="201.8" r="1.05"/>
<circle cx="419.4" cy="205.55" r="1.05"/>
<circle cx="418.6" cy="209.3" r="1.05"/>
<circle cx="417.5" cy="213.05" r="1.05"/>
<circle cx="417.4" cy="216.8" r="1.05"/>
<circle cx="416.8" cy="220.55" r="1.05"/>
<circle cx="416.5" cy="224.3" r="1.05"/>
<circle cx="416.3" cy="228.05" r="1.05"/>
<circle cx="416.2" cy="231.8" r="1.05"/>
<circle cx="416" cy="235.55" r="1.05"/>
<circle cx="414.7" cy="239.3" r="1.05"/>
<circle cx="414.3" cy="243.05" r="1.05"/>
<circle cx="414.1" cy="246.8" r="1.05"/>
<circle cx="413.9" cy="250.55" r="1.05"/>
<circle cx="413.5" cy="254.3" r="1.05"/>
<circle cx="411.4" cy="258.05" r="1.05"/>
<circle cx="409.3" cy="261.8" r="1.05"/>
<circle cx="408.5" cy="265.55" r="1.05"/>
<circle cx="401.5" cy="269.3" r="1.05"/>
<circle cx="398.8" cy="273.05" r="1.05"/>
<circle cx="397.3" cy="276.8" r="1.05"/>
<rect x="517.2" y="154.9" width="165" height="148.9" fill="none" stroke="#111111" stroke-width="1.5"/>
<path d="M564.1 179.42H673.8M564.1 183.14H673.8M564.1 186.86H673.8M564.1 190.59H673.8M564.1 194.31H673.8M564.1 198.03H673.8M564.1 201.75H673.8M564.1 205.47H673.8M564.1 209.19H673.8M564.1 212.91H673.8M564.1 216.64H673.8M564.1 220.36H673.8M564.1 224.08H673.8M564.1 227.8H673.8M564.1 231.52H673.8M564.1 235.24H673.8M564.1 238.96H673.8M564.1 242.69H673.8M564.1 246.41H673.8M564.1 250.13H673.8M564.1 253.85H673.8M564.1 257.57H673.8M564.1 261.29H673.8M564.1 265.01H673.8M564.1 268.74H673.8M564.1 272.46H673.8M564.1 276.18H673.8" stroke="#efefef" stroke-width="0.6" stroke-dasharray="1.3 0.5" fill="none"/>
<rect x="563.3" y="175.4" width="111.3" height="104.2" fill="none" stroke="#a0a0a0" stroke-width="0.8"/>
<path d="M567.3 279.6H667.2M567.3 279.6V282.5M592.3 279.6V282.5M617.3 279.6V282.5M642.3 279.6V282.5M667.2 279.6V282.5" stroke="#959595" stroke-width="0.7" fill="none"/>
<text transform="translate(567.3 288.6) rotate(0.2) scale(0.96 1)" class="tk">0</text>
<text transform="translate(592.3 288.6) rotate(0.2) scale(0.96 1)" class="tk">5</text>
<text transform="translate(617.3 288.6) rotate(0.2) scale(0.96 1)" class="tk">10</text>
<text transform="translate(642.3 288.6) rotate(0.2) scale(0.96 1)" class="tk">15</text>
<text transform="translate(667.2 288.6) rotate(0.2) scale(0.96 1)" class="tk">20</text>
<text transform="translate(599.7 298.4) rotate(0.2)" class="xl" textLength="38.5" lengthAdjust="spacingAndGlyphs">MeanDecreaseGini</text>
<text transform="translate(574.05 167.85) rotate(0.2)" class="tt" textLength="89.8" lengthAdjust="spacingAndGlyphs">Feature Importance (in descending order)</text>
<text transform="translate(520.8 165.3) rotate(0.2)" class="pl" textLength="42.9" lengthAdjust="spacingAndGlyphs">(h) withdrawal</text>
<text transform="translate(520.8 172.5) rotate(0.2)" class="pl" textLength="29.4" lengthAdjust="spacingAndGlyphs">symptoms</text>
<text transform="translate(532 180.82) rotate(0.2) scale(0.92 1)" class="yl">PHQscore</text>
<text transform="translate(532 184.54) rotate(0.2) scale(0.92 1)" class="yl">STAIscore</text>
<text transform="translate(532 188.26) rotate(0.2) scale(0.92 1)" class="yl">age</text>
<text transform="translate(532 191.99) rotate(0.2) scale(0.92 1)" class="yl">employment</text>
<text transform="translate(532 195.71) rotate(0.2) scale(0.92 1)" class="yl">Consistency range</text>
<text transform="translate(532 199.43) rotate(0.2) scale(0.92 1)" class="yl">Tradeoff range</text>
<text transform="translate(532 203.15) rotate(0.2) scale(0.92 1)" class="yl">RA Tradeoff</text>
<text transform="translate(532 206.87) rotate(0.2) scale(0.92 1)" class="yl">RA consistency</text>
<text transform="translate(532 210.59) rotate(0.2) scale(0.92 1)" class="yl">Peak NR</text>
<text transform="translate(532 214.31) rotate(0.2) scale(0.92 1)" class="yl">Aversion TP</text>
<text transform="translate(532 218.04) rotate(0.2) scale(0.92 1)" class="yl">Peak PR</text>
<text transform="translate(532 221.76) rotate(0.2) scale(0.92 1)" class="yl">Insurance</text>
<text transform="translate(532 225.48) rotate(0.2) scale(0.92 1)" class="yl">RA</text>
<text transform="translate(532 229.2) rotate(0.2) scale(0.92 1)" class="yl">Aare</text>
<text transform="translate(532 232.92) rotate(0.2) scale(0.92 1)" class="yl">LA</text>
<text transform="translate(532 236.64) rotate(0.2) scale(0.92 1)" class="yl">Total AR</text>
<text transform="translate(532 240.36) rotate(0.2) scale(0.92 1)" class="yl">Reward TP</text>
<text transform="translate(532 244.09) rotate(0.2) scale(0.92 1)" class="yl">LR</text>
<text transform="translate(532 247.81) rotate(0.2) scale(0.92 1)" class="yl">Total RR</text>
<text transform="translate(532 251.53) rotate(0.2) scale(0.92 1)" class="yl">edu</text>
<text transform="translate(532 255.25) rotate(0.2) scale(0.92 1)" class="yl">income</text>
<text transform="translate(532 258.97) rotate(0.2) scale(0.92 1)" class="yl">marital</text>
<text transform="translate(532 262.69) rotate(0.2) scale(0.92 1)" class="yl">edu_years</text>
<text transform="translate(532 266.41) rotate(0.2) scale(0.92 1)" class="yl">race</text>
<text transform="translate(532 270.14) rotate(0.2) scale(0.92 1)" class="yl">sex</text>
<text transform="translate(532 273.86) rotate(0.2) scale(0.92 1)" class="yl">test</text>
<text transform="translate(532 277.58) rotate(0.2) scale(0.92 1)" class="yl">diagnosis</text>
<circle cx="670.5" cy="179.42" r="1.05"/>
<circle cx="664.4" cy="183.14" r="1.05"/>
<circle cx="633.5" cy="186.86" r="1.05"/>
<circle cx="600.2" cy="190.59" r="1.05"/>
<circle cx="594.4" cy="194.31" r="1.05"/>
<circle cx="591.1" cy="198.03" r="1.05"/>
<circle cx="590.9" cy="201.75" r="1.05"/>
<circle cx="589.5" cy="205.47" r="1.05"/>
<circle cx="586.7" cy="209.19" r="1.05"/>
<circle cx="585.6" cy="212.91" r="1.05"/>
<circle cx="584.5" cy="216.64" r="1.05"/>
<circle cx="584.2" cy="220.36" r="1.05"/>
<circle cx="584.1" cy="224.08" r="1.05"/>
<circle cx="584" cy="227.8" r="1.05"/>
<circle cx="583.9" cy="231.52" r="1.05"/>
<circle cx="583.7" cy="235.24" r="1.05"/>
<circle cx="583.5" cy="238.96" r="1.05"/>
<circle cx="583.5" cy="242.69" r="1.05"/>
<circle cx="582.6" cy="246.41" r="1.05"/>
<circle cx="581.6" cy="250.13" r="1.05"/>
<circle cx="581.4" cy="253.85" r="1.05"/>
<circle cx="579.5" cy="257.57" r="1.05"/>
<circle cx="579.3" cy="261.29" r="1.05"/>
<circle cx="575.8" cy="265.01" r="1.05"/>
<circle cx="573.9" cy="268.74" r="1.05"/>
<circle cx="573.3" cy="272.46" r="1.05"/>
<circle cx="571.4" cy="276.18" r="1.05"/>
</svg>
</body></html>
